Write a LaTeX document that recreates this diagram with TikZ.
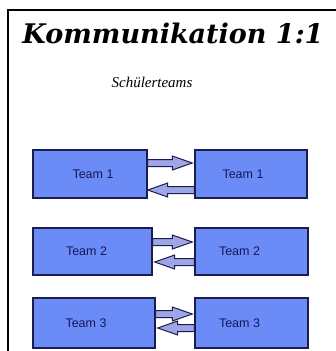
\documentclass[tikz,border=0pt]{standalone}
\usepackage{fontspec}
\setmainfont{Liberation Serif}
\newfontfamily\titlefont{DejaVu Serif}
\newfontfamily\labelfont{Liberation Sans}
\usetikzlibrary{calc}

\definecolor{boxblue}{HTML}{6B8CF6}
\definecolor{boxline}{HTML}{1C1C4E}
\definecolor{arrowfill}{HTML}{9FA6E6}
\definecolor{labelcol}{HTML}{16165A}

\tikzset{
  teambox/.style={draw=boxline, line width=1.4pt, fill=boxblue,
    minimum height=48pt, inner sep=0pt},
  teamlabel/.style={font=\labelfont\fontsize{12.5}{14}\selectfont, text=labelcol, inner sep=0pt},
  fatarrow/.style={draw=boxline, line width=1pt, fill=arrowfill, line join=miter,
    to path={let \p1=(\tikztostart), \p2=(\tikztotarget), \n1={sign(\x2-\x1)} in
      (\x1,\y1+3.5pt) -- ({\x2-\n1*20pt},\y1+3.5pt) -- ({\x2-\n1*20pt},\y1+7pt)
      -- (\x2,\y1) -- ({\x2-\n1*20pt},\y1-7pt) -- ({\x2-\n1*20pt},\y1-3.5pt)
      -- (\x1,\y1-3.5pt) -- cycle}}
}

\begin{document}
\begin{tikzpicture}[x=1pt,y=-1pt]
  \useasboundingbox[fill=white] (0,0) rectangle (335,351);

  % frame
  \draw[line width=1.8pt] (8,353) -- (8,10) -- (337,10);

  % headings
  \node[font=\titlefont\bfseries\itshape\fontsize{27}{30}\selectfont] (title) at (173,33) {Kommunikation 1:1};
  \node[font=\itshape\fontsize{15}{18}\selectfont] (sub) at (152,82) {Schülerteams};

  % team boxes
  \node[teambox, minimum width=114pt, label={[teamlabel,xshift=3pt]center:Team 1}] (L1) at (90,174) {};
  \node[teambox, minimum width=112pt, label={[teamlabel,xshift=-8pt]center:Team 1}] (R1) at (251,174) {};
  \node[teambox, minimum width=119pt, minimum height=47pt, label={[teamlabel,xshift=-6pt]center:Team 2}] (L2) at (92.5,251.5) {};
  \node[teambox, minimum width=113pt, minimum height=47pt, label={[teamlabel,xshift=-12pt]center:Team 2}] (R2) at (251.5,251.5) {};
  \node[teambox, minimum width=122pt, minimum height=50pt, label={[teamlabel,xshift=-8pt]center:Team 3}] (L3) at (94,323) {};
  \node[teambox, minimum width=113pt, minimum height=50pt, label={[teamlabel,xshift=-12pt]center:Team 3}] (R3) at (251.5,323) {};

  % arrow ends on the box borders
  \coordinate (a1s) at ([yshift=11pt]L1.east);
  \coordinate (a1e) at ([yshift=11pt,xshift=-2pt]R1.west);
  \coordinate (b1s) at ([yshift=-16pt]R1.west);
  \coordinate (b1e) at ([yshift=-16pt]L1.east);
  \coordinate (a2s) at ([yshift=9.5pt]L2.east);
  \coordinate (a2e) at ([yshift=9.5pt,xshift=-2pt]R2.west);
  \coordinate (b2s) at ([yshift=-10.5pt]R2.west);
  \coordinate (b2e) at ([yshift=-10.5pt,xshift=2pt]L2.east);
  \coordinate (a3s) at ([yshift=9pt]L3.east);
  \coordinate (a3e) at ([yshift=9pt,xshift=-2pt]R3.west);
  \coordinate (b3s) at ([yshift=-5pt]R3.west);
  \coordinate (b3e) at ([yshift=-5pt,xshift=2pt]L3.east);

  \draw[fatarrow] (a1s) to (a1e);
  \draw[fatarrow] (b1s) to (b1e);
  \draw[fatarrow] (a2s) to (a2e);
  \draw[fatarrow] (b2s) to (b2e);
  \draw[fatarrow] (a3s) to (a3e);
  \draw[fatarrow] (b3s) to (b3e);
\end{tikzpicture}
\end{document}
